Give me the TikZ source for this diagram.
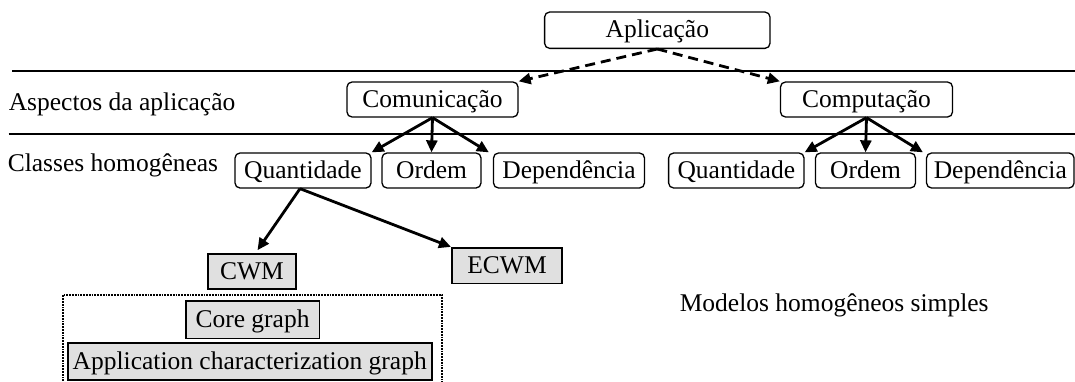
\documentclass[tikz,border=0pt]{standalone}
\usepackage{fontspec}
\setmainfont{Liberation Serif}
\usetikzlibrary{arrows.meta,calc}
\definecolor{boxgray}{RGB}{224,224,224}
\begin{document}
\begin{tikzpicture}[x=1pt,y=-1pt,
  every node/.style={font=\fontsize{25.5}{30}\selectfont, inner sep=0pt,
                     text height=19.5pt, text depth=4.5pt},
  rbox/.style={draw, line width=1.3pt, rounded corners=5pt, minimum height=35pt},
  gbox/.style={draw, line width=1.6pt, fill=boxgray, minimum height=35pt},
  label/.style={anchor=base west},
  tree/.style={line width=2.8pt, -{Triangle[length=12pt,width=11pt]}},
  link/.style={tree, dash pattern=on 10pt off 6pt},
  rule/.style={line width=1.3pt},
  frame/.style={line width=1.8pt, densely dotted}]
\useasboundingbox (0,0) rectangle (1075,381);

% level separators
\coordinate (r1a) at (12,71);   \coordinate (r1b) at (1075,71);
\coordinate (r2a) at (8.6,134); \coordinate (r2b) at (1075,134);
\draw[rule] (r1a) -- (r1b);
\draw[rule] (r2a) -- (r2b);

% level labels
\node[label] (lasp) at (8.6,110) {Aspectos da aplicação};
\node[label] (lcls) at (7.6,171) {Classes homogêneas};
\node[label] (lmod) at (679.6,311.7) {Modelos homogêneos simples};

% application and its aspects
\node[rbox, minimum width=225.4pt, minimum height=36.3pt] (app) at (657.3,30.2) {Aplicação};
\node[rbox, minimum width=171pt] (com)  at (432.5,99.5) {Comunicação};
\node[rbox, minimum width=172pt] (comp) at (866.5,99.5) {Computação};

% homogeneous classes
\node[rbox, minimum width=136pt]   (q1) at (303,170.5)    {Quantidade};
\node[rbox, minimum width=99pt]    (o1) at (431.5,170.5)  {Ordem};
\node[rbox, minimum width=151pt]   (d1) at (569,170.5)    {Dependência};
\node[rbox, minimum width=135.4pt] (q2) at (736.3,170.5)  {Quantidade};
\node[rbox, minimum width=100pt]   (o2) at (865.5,170.5)  {Ordem};
\node[rbox, minimum width=147.5pt] (d2) at (1000.3,170.5) {Dependência};

% simple homogeneous models
\node[gbox, minimum width=88pt] (cwm)  at (252,271.5) {CWM};
\node[gbox, minimum width=110.5pt, minimum height=35.6pt] (ecwm) at (507,265.5) {ECWM};
\node[gbox, minimum width=133.6pt, minimum height=37.6pt] (core) at (252.5,319.5) {Core graph};
\node[gbox, minimum width=364pt, minimum height=37pt] (acg) at (249.7,361.5) {Application characterization graph};

% dotted frame around the CWM graphs (open at the bottom)
\draw[frame] (63,384) -- (63,295) -- (442,295) -- (442,384);

% connectors
\draw[link] (app.south) -- (com.north east);
\draw[link] (app.south) -- (comp.north west);

\draw[tree] (com.south) -- (q1.north east);
\draw[tree] (com.south) -- (o1.north);
\draw[tree] (com.south) -- ($(d1.north west)+(-4,0)$);

\draw[tree] (comp.south) -- (q2.north east);
\draw[tree] (comp.south) -- (o2.north);
\draw[tree] (comp.south) -- ($(d2.north west)+(-3,0)$);

\draw[tree] ($(q1.south)+(-3,0)$) -- ($(cwm.north)+(5.5,-3)$);
\draw[tree] ($(q1.south)+(-3,0)$) -- (ecwm.north west);
\end{tikzpicture}
\end{document}
